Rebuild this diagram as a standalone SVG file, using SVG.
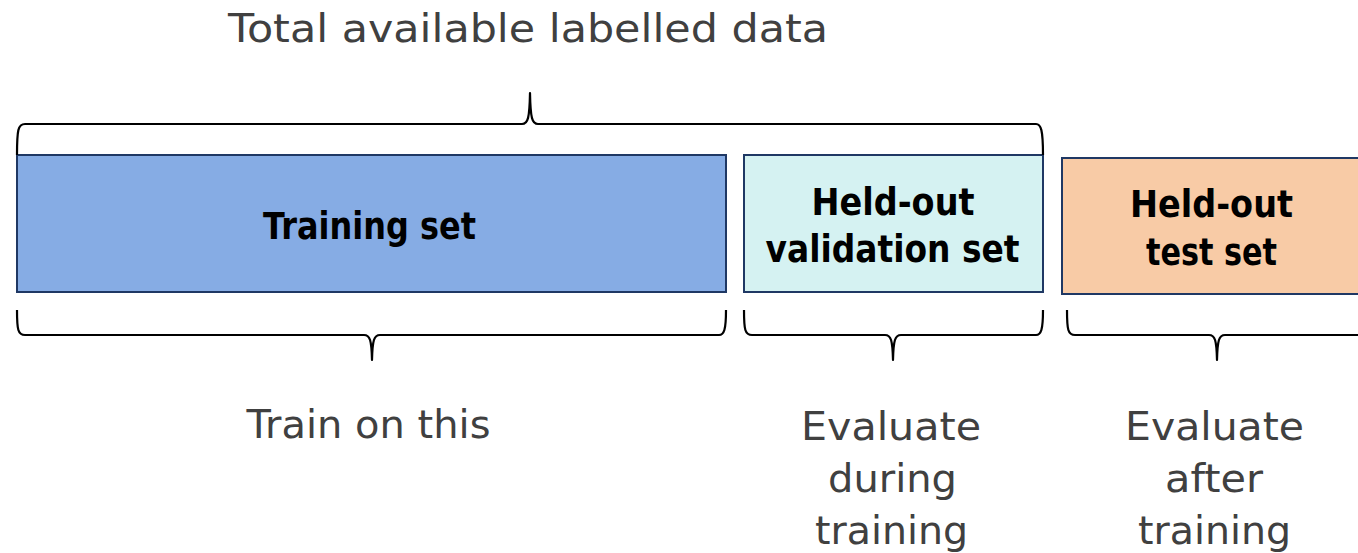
<svg xmlns="http://www.w3.org/2000/svg" width="1358" height="553" viewBox="0 0 1358 553">
<style>
.box{stroke:#1F3864;stroke-width:2}
.brace{fill:none;stroke:#000;stroke-width:2.2;stroke-linejoin:round}
.lbl{font-family:"DejaVu Sans","Liberation Sans",sans-serif;font-size:39px;fill:#404040;text-anchor:middle}
.bold{font-family:"DejaVu Sans","Liberation Sans",sans-serif;font-size:37px;font-weight:bold;fill:#000;text-anchor:middle}
</style>
<rect width="1358" height="553" fill="#fff"/>
<g id="title">
<text class="lbl" x="528" y="42" textLength="600" lengthAdjust="spacingAndGlyphs">Total available labelled data</text>
</g>
<g id="training">
<rect class="box" x="17" y="155" width="709" height="137" fill="#86ACE4"/>
<text class="bold" x="369.5" y="239" textLength="213" lengthAdjust="spacingAndGlyphs">Training set</text>
</g>
<g id="validation">
<rect class="box" x="744" y="155" width="299" height="137" fill="#D5F2F2"/>
<text class="bold" x="893" y="215" textLength="163" lengthAdjust="spacingAndGlyphs">Held-out</text>
<text class="bold" x="892.5" y="262" textLength="254" lengthAdjust="spacingAndGlyphs">validation set</text>
</g>
<g id="test">
<rect class="box" x="1062" y="158" width="310" height="136" fill="#F8CBA6"/>
<text class="bold" x="1211.5" y="217" textLength="163" lengthAdjust="spacingAndGlyphs">Held-out</text>
<text class="bold" x="1211.5" y="265" textLength="131" lengthAdjust="spacingAndGlyphs">test set</text>
</g>
<g id="connectors">
<path class="brace" d="M17,155 C17,130 18,124 25,124 L522,124 C528,124 529.5,118 530,93 C530.5,118 532,124 538,124 L1036,124 C1041,124 1043,130 1043,155"/>
<path class="brace" d="M17,310 C17,330 18,335 25,335 L364,335 C370,335 371.5,340 372,360 C372.5,340 374,335 380,335 L719,335 C724,335 726,330 726,310"/>
<path class="brace" d="M744,310 C744,330 745,335 752,335 L885,335 C891,335 892.5,340 893,360 C893.5,340 895,335 901,335 L1036,335 C1041,335 1043,330 1043,310"/>
<path class="brace" d="M1067,310 C1067,330 1068,335 1075,335 L1209,335 C1215,335 1216.5,340 1217,360 C1217.5,340 1219,335 1225,335 L1360,335"/>
</g>
<g id="labels">
<text class="lbl" x="368.5" y="438" textLength="244" lengthAdjust="spacingAndGlyphs">Train on this</text>
<text class="lbl" x="891" y="440" textLength="180" lengthAdjust="spacingAndGlyphs">Evaluate</text>
<text class="lbl" x="892.5" y="492" textLength="129" lengthAdjust="spacingAndGlyphs">during</text>
<text class="lbl" x="891.5" y="544" textLength="153" lengthAdjust="spacingAndGlyphs">training</text>
<text class="lbl" x="1214.5" y="440" textLength="179" lengthAdjust="spacingAndGlyphs">Evaluate</text>
<text class="lbl" x="1214" y="492" textLength="98" lengthAdjust="spacingAndGlyphs">after</text>
<text class="lbl" x="1214.5" y="544" textLength="153" lengthAdjust="spacingAndGlyphs">training</text>
</g>
</svg>
